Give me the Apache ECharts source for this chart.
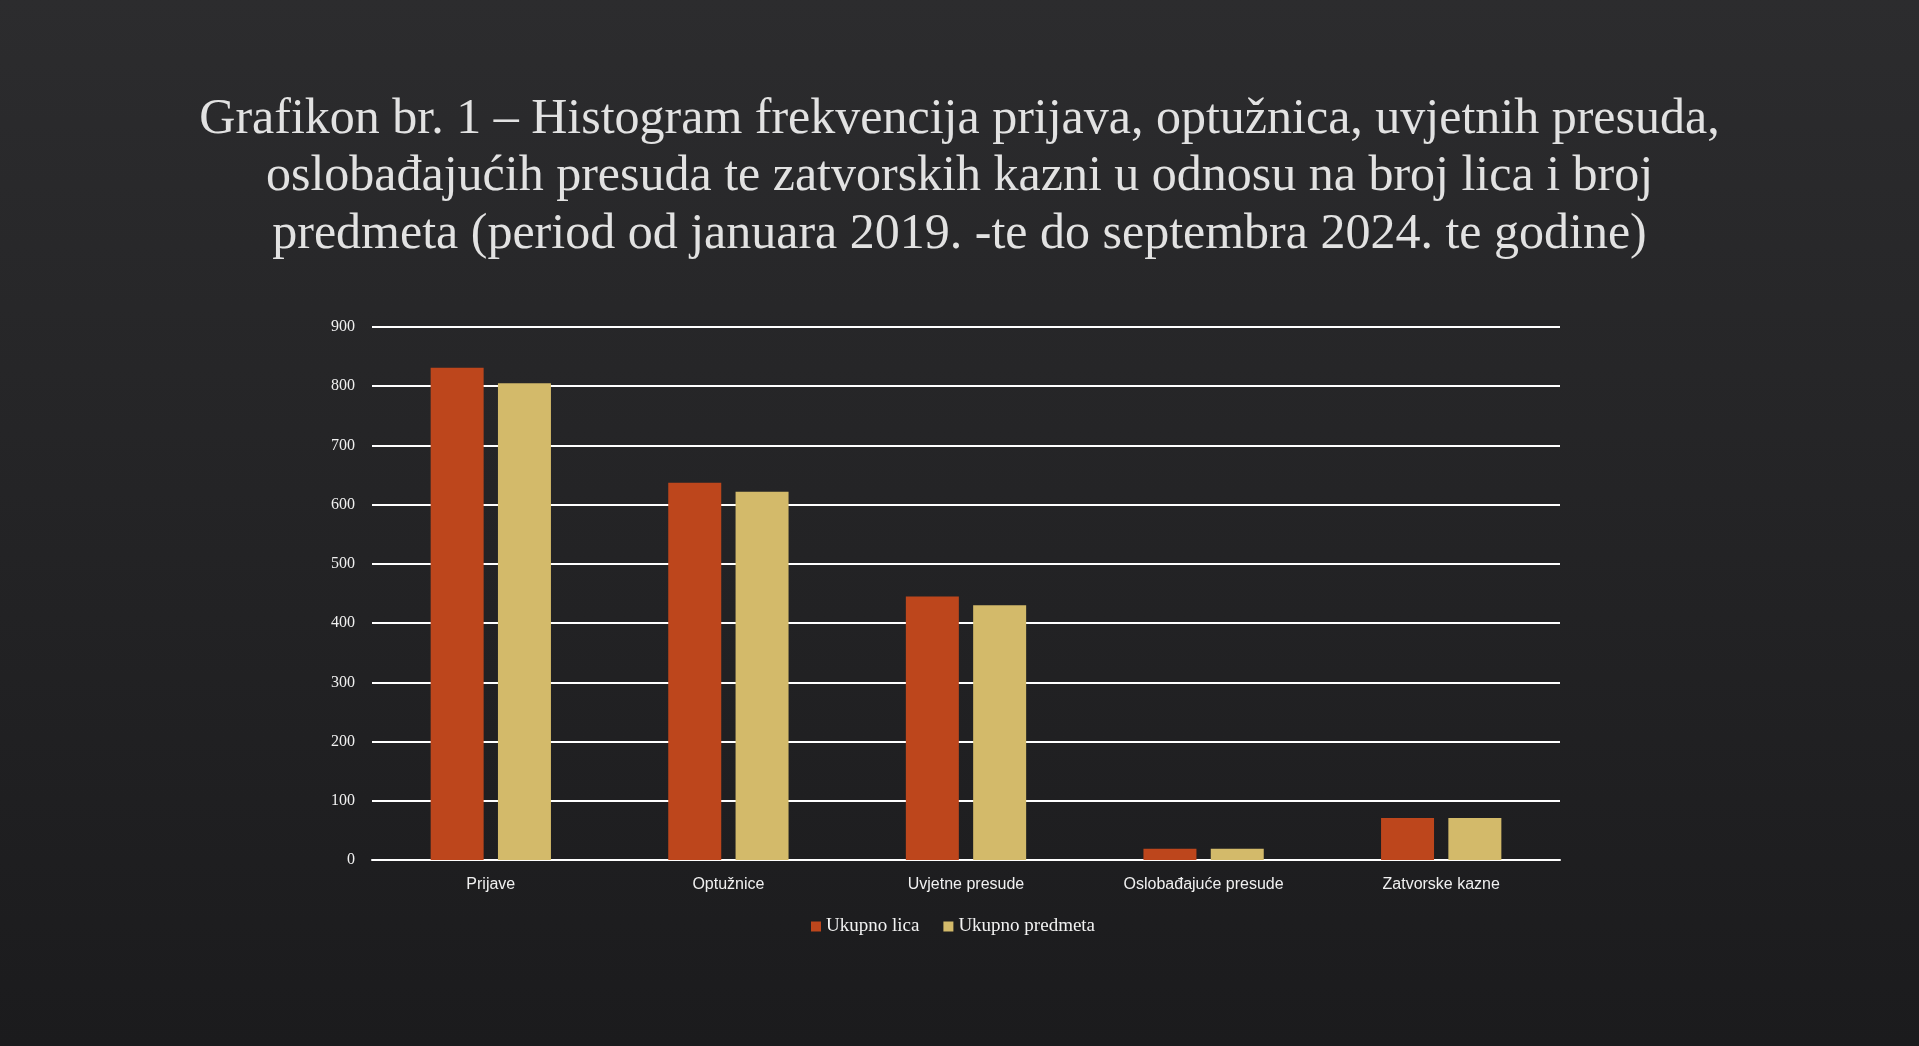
<!DOCTYPE html>
<html>
<head>
<meta charset="utf-8">
<script src="https://cdn.jsdelivr.net/npm/echarts@6/dist/echarts.min.js"></script>
<style>
html,body{margin:0;padding:0;width:1919px;height:1046px;overflow:hidden;background:#242426;}
#chart{width:1919px;height:1046px;}
</style>
</head>
<body>
<div id="chart"></div>
<script>
const titleText = 'Grafikon br. 1 – Histogram frekvencija prijava, optužnica, uvjetnih presuda,\noslobađajućih presuda te zatvorskih kazni u odnosu na broj lica i broj\npredmeta (period od januara 2019. -te do septembra 2024. te godine)';
const categories = ['Prijave', 'Optužnice', 'Uvjetne presude', 'Oslobađajuće presude', 'Zatvorske kazne'];
const seriesNames = ['Ukupno lica', 'Ukupno predmeta'];
const ukupnoLica = [831, 637, 445, 19, 71];
const ukupnoPredmeta = [805, 622, 430, 19, 71];
const yMin = 0, yMax = 900, yStep = 100;

const chart = echarts.init(document.getElementById('chart'), null, {renderer: 'canvas'});
chart.setOption({
  backgroundColor: {
    type: 'linear', x: 0, y: 0, x2: 0, y2: 1,
    colorStops: [{offset: 0, color: '#2c2c2e'}, {offset: 1, color: '#1b1b1d'}]
  },
  animation: false,
  title: {
    text: titleText,
    left: 'center',
    top: 86,
    textStyle: {
      color: '#e2e2e2',
      fontFamily: 'Liberation Serif',
      fontWeight: 'normal',
      fontSize: 50,
      lineHeight: 57.5
    }
  },
  legend: {
    data: seriesNames,
    left: 811,
    top: 917,
    padding: 0,
    itemWidth: 10,
    itemHeight: 10,
    itemGap: 24,
    icon: 'rect',
    textStyle: {color: '#f2f2f2', fontFamily: 'Liberation Serif', fontSize: 19, padding: [0,0,0,0]}
  },
  grid: {left: 372, right: 359, top: 327, bottom: 186, containLabel: false},
  xAxis: {
    type: 'category',
    data: categories,
    axisLine: {lineStyle: {color: '#ffffff', width: 2}},
    axisTick: {show: false},
    axisLabel: {color: '#f0f0f0', fontFamily: 'Liberation Sans', fontSize: 16, margin: 17}
  },
  yAxis: {
    type: 'value',
    min: yMin, max: yMax, interval: yStep,
    axisLine: {show: false},
    axisTick: {show: false},
    axisLabel: {color: '#f0f0f0', fontFamily: 'Liberation Serif', fontSize: 16, margin: 17},
    splitLine: {lineStyle: {color: '#ffffff', width: 2}}
  },
  series: [
    {name: seriesNames[0], type: 'bar', data: ukupnoLica, barWidth: 53, barGap: '27%', itemStyle: {color: '#BD461C'}},
    {name: seriesNames[1], type: 'bar', data: ukupnoPredmeta, barWidth: 53, itemStyle: {color: '#D3BA6A'}}
  ]
});
</script>
</body>
</html>
